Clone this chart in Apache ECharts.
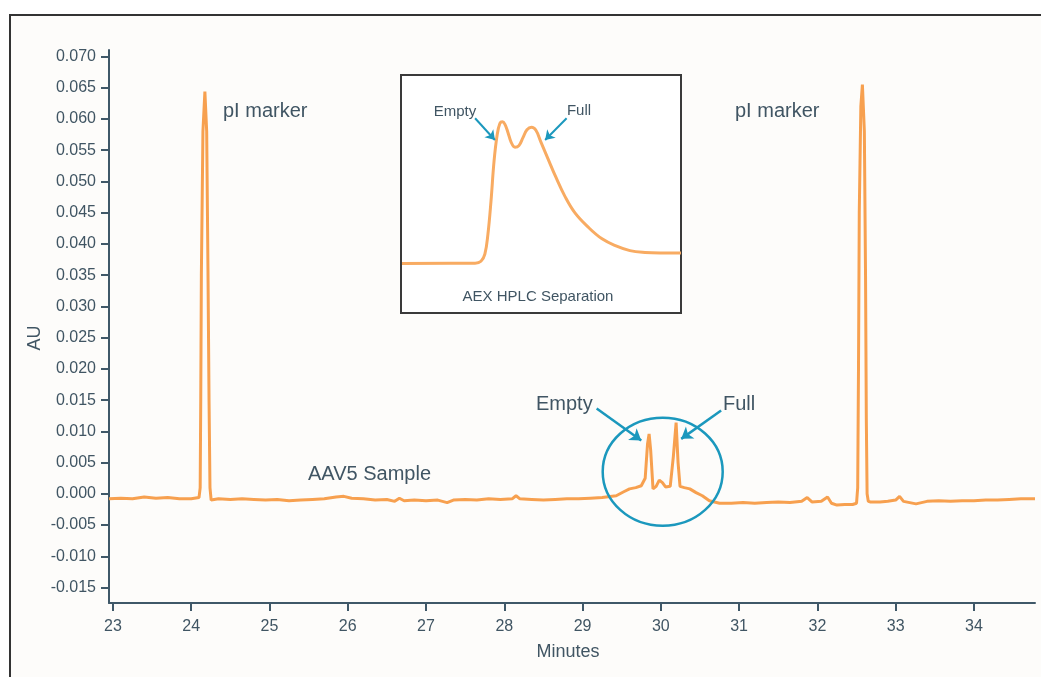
<!DOCTYPE html>
<html>
<head>
<meta charset="utf-8">
<title>AAV5 pI chromatogram</title>
<script src="https://cdn.jsdelivr.net/npm/echarts@6/dist/echarts.min.js"></script>
<style>
  html, body { margin: 0; padding: 0; background: #fff; }
  #box1 { width: 1041px; height: 677px; }
</style>
</head>
<body>
<div id="box1"></div>
<script>
// main trace (minutes / AU)
var minutes = [22.95, 23.10, 23.25, 23.40, 23.55, 23.70, 23.85, 24.00, 24.10, 24.115, 24.122, 24.13, 24.15, 24.175, 24.198, 24.215, 24.228, 24.24, 24.255, 24.28,
    24.35, 24.50, 24.65, 24.80, 24.95, 25.10, 25.25, 25.40, 25.55, 25.70, 25.85, 25.95, 26.05, 26.20, 26.35, 26.50, 26.60, 26.66, 26.72, 26.85,
    27.00, 27.15, 27.27, 27.35, 27.50, 27.65, 27.80, 27.95, 28.10, 28.15, 28.20, 28.35, 28.50, 28.65, 28.80, 28.95, 29.10, 29.25, 29.43, 29.52,
    29.60, 29.68, 29.75, 29.80, 29.83, 29.85, 29.87, 29.90, 29.94, 29.98, 30.02, 30.06, 30.12, 30.16, 30.195, 30.22, 30.245, 30.30, 30.37, 30.45,
    30.53, 30.62, 30.75, 30.90, 31.05, 31.20, 31.35, 31.50, 31.65, 31.80, 31.87, 31.93, 32.05, 32.13, 32.18, 32.25, 32.35, 32.45, 32.50, 32.515,
    32.525, 32.535, 32.555, 32.575, 32.60, 32.615, 32.625, 32.635, 32.65, 32.68, 32.80, 32.90, 33.00, 33.05, 33.10, 33.26, 33.40, 33.55, 33.70, 33.85,
    34.00, 34.15, 34.30, 34.45, 34.60, 34.78];
var au = [-0.0008, -0.0007, -0.0008, -0.0005, -0.0007, -0.0006, -0.0008, -0.0008, -0.0006, 0.001, 0.015, 0.035, 0.058, 0.0644, 0.058, 0.035, 0.015, 0.001, -0.0010, -0.0008,
    -0.0008, -0.0009, -0.0008, -0.0009, -0.0010, -0.0009, -0.0011, -0.0010, -0.0009, -0.0008, -0.0005, -0.0004, -0.0007, -0.0008, -0.0010, -0.0009, -0.0012, -0.0007, -0.0011, -0.0010,
    -0.0011, -0.0010, -0.0014, -0.0010, -0.0009, -0.0010, -0.0008, -0.0009, -0.0008, -0.0003, -0.0008, -0.0009, -0.0010, -0.0009, -0.0008, -0.0008, -0.0007, -0.0006, -0.0003, 0.0003,
    0.0008, 0.0010, 0.0013, 0.0025, 0.0080, 0.0096, 0.0070, 0.0008, 0.0012, 0.0022, 0.0018, 0.0011, 0.0012, 0.0060, 0.0114, 0.0050, 0.0012, 0.0010, 0.0008, 0.0002,
    -0.0003, -0.0011, -0.0015, -0.0015, -0.0014, -0.0015, -0.0014, -0.0013, -0.0014, -0.0012, -0.0006, -0.0013, -0.0012, -0.0005, -0.0015, -0.0018, -0.0017, -0.0017, -0.0015, 0.001,
    0.020, 0.045, 0.062, 0.0655, 0.058, 0.035, 0.012, 0.000, -0.0012, -0.0013, -0.0013, -0.0012, -0.0010, -0.0004, -0.0012, -0.0016, -0.0012, -0.0011, -0.0012, -0.0011,
    -0.0011, -0.0010, -0.0010, -0.0009, -0.0008, -0.0008];

var xTicks = [23, 24, 25, 26, 27, 28, 29, 30, 31, 32, 33, 34];
var yTicks = [-0.015, -0.010, -0.005, 0.000, 0.005, 0.010, 0.015, 0.020, 0.025, 0.030, 0.035, 0.040, 0.045, 0.050, 0.055, 0.060, 0.065, 0.070];

// inset: AEX HPLC trace (relative time / relative signal)
var insetTime = [0, 2.62, 2.83, 2.97, 3.08, 3.19, 3.30, 3.41, 3.51, 3.60, 3.69, 3.80, 3.91, 4.05, 4.19, 4.34, 4.48, 4.64, 4.80, 4.98,
    5.23, 5.52, 5.84, 6.20, 6.67, 7.17, 7.67, 8.17, 8.71, 9.25, 10];
var insetSignal = [0.206, 0.207, 0.215, 0.245, 0.33, 0.47, 0.64, 0.75, 0.80, 0.806, 0.795, 0.76, 0.72, 0.698, 0.705, 0.74, 0.772, 0.783, 0.77, 0.72,
    0.65, 0.57, 0.49, 0.42, 0.36, 0.31, 0.28, 0.26, 0.252, 0.25, 0.25];

// arrows  [x1, y1, x2, y2] in data units
var mainArrows = [[29.18, 0.01365, 29.75, 0.00853], [30.77, 0.01333, 30.26, 0.0088]];
var insetArrows = [[2.62, 0.821, 3.33, 0.729], [5.90, 0.821, 5.13, 0.729]];

function pairs(xs, ys) {
    var out = [];
    for (var i = 0; i < xs.length; i++) out.push([xs[i], ys[i]]);
    return out;
}
function arrowData(list) {
    return list.map(function (a) {
        return [{ coord: [a[0], a[1]] }, { coord: [a[2], a[3]] }];
    });
}

var txt = '#405563';
var axisCol = '#3f5868';
var teal = '#1b98bd';
var font = 'Liberation Sans, Arial, sans-serif';

var myChart1 = echarts.init(document.getElementById('box1'));
var option1 = {
    animation: false,
    backgroundColor: '#ffffff',
    grid: [
        { left: 109, right: 6, top: 50, bottom: 74 },
        { left: 402, top: 76, width: 279, height: 236 }
    ],
    xAxis: [
        {
            type: 'value', gridIndex: 0, min: 22.95, max: 34.78,
            splitLine: { show: false },
            axisLine: { onZero: false, lineStyle: { color: axisCol, width: 2 } },
            axisTick: { customValues: xTicks, length: 8, lineStyle: { color: axisCol, width: 2 } },
            axisLabel: { customValues: xTicks, margin: 16, color: txt, fontSize: 16, fontFamily: font }
        },
        { type: 'value', gridIndex: 1, min: 0, max: 10, show: false }
    ],
    yAxis: [
        {
            type: 'value', gridIndex: 0, min: -0.01747, max: 0.07104,
            splitLine: { show: false },
            axisLine: { show: true, onZero: false, lineStyle: { color: axisCol, width: 2 } },
            axisTick: { show: true, customValues: yTicks, length: 8, lineStyle: { color: axisCol, width: 2 } },
            axisLabel: {
                customValues: yTicks, margin: 13, color: txt, fontSize: 16, fontFamily: font,
                formatter: function (v) { return v.toFixed(3); }
            }
        },
        { type: 'value', gridIndex: 1, min: 0, max: 1, show: false }
    ],
    graphic: [
        { type: 'rect', z: -10, shape: { x: 10, y: 15, width: 1040, height: 670 }, style: { fill: '#fdfcfa', stroke: '#333', lineWidth: 2 } },
        { type: 'rect', z: -5, shape: { x: 401, y: 75, width: 280, height: 238 }, style: { fill: '#ffffff', stroke: '#3a3a3a', lineWidth: 2 } },
        { type: 'ellipse', z: 50, shape: { cx: 662.7, cy: 471.7, rx: 60, ry: 54 }, style: { fill: null, stroke: teal, lineWidth: 2.5 } },
        { type: 'text', x: 35, y: 338, rotation: Math.PI / 2, style: { text: 'AU', fill: txt, font: '18px ' + font, align: 'center', verticalAlign: 'middle' } },
        { type: 'text', x: 568, y: 652, style: { text: 'Minutes', fill: txt, font: '18px ' + font, align: 'center', verticalAlign: 'middle' } },
        { type: 'text', x: 223, y: 111, style: { text: 'pI marker', fill: txt, font: '20px ' + font, verticalAlign: 'middle' } },
        { type: 'text', x: 735, y: 111, style: { text: 'pI marker', fill: txt, font: '20px ' + font, verticalAlign: 'middle' } },
        { type: 'text', x: 308, y: 474, style: { text: 'AAV5 Sample', fill: txt, font: '20px ' + font, verticalAlign: 'middle' } },
        { type: 'text', x: 536, y: 404, style: { text: 'Empty', fill: txt, font: '20px ' + font, verticalAlign: 'middle' } },
        { type: 'text', x: 723, y: 404, style: { text: 'Full', fill: txt, font: '20px ' + font, verticalAlign: 'middle' } },
        { type: 'text', x: 455, y: 112, style: { text: 'Empty', fill: txt, font: '15px ' + font, align: 'center', verticalAlign: 'middle' } },
        { type: 'text', x: 579, y: 111, style: { text: 'Full', fill: txt, font: '15px ' + font, align: 'center', verticalAlign: 'middle' } },
        { type: 'text', x: 538, y: 297, style: { text: 'AEX HPLC Separation', fill: txt, font: '15px ' + font, align: 'center', verticalAlign: 'middle' } }
    ],
    series: [
        {
            name: 'AAV5 Sample', type: 'line', xAxisIndex: 0, yAxisIndex: 0,
            data: pairs(minutes, au), showSymbol: false,
            lineStyle: { color: '#f7a04f', width: 3 },
            markLine: {
                silent: true, symbol: ['none', 'arrow'], symbolSize: 11,
                label: { show: false },
                lineStyle: { color: teal, width: 2.5, type: 'solid' },
                data: arrowData(mainArrows)
            }
        },
        {
            name: 'AEX HPLC', type: 'line', xAxisIndex: 1, yAxisIndex: 1,
            data: pairs(insetTime, insetSignal), showSymbol: false, smooth: 0.4,
            lineStyle: { color: '#f8ab62', width: 3 },
            markLine: {
                silent: true, symbol: ['none', 'arrow'], symbolSize: 9,
                label: { show: false },
                lineStyle: { color: teal, width: 2, type: 'solid' },
                data: arrowData(insetArrows)
            }
        }
    ]
};
myChart1.setOption(option1, true);
</script>
</body>
</html>
